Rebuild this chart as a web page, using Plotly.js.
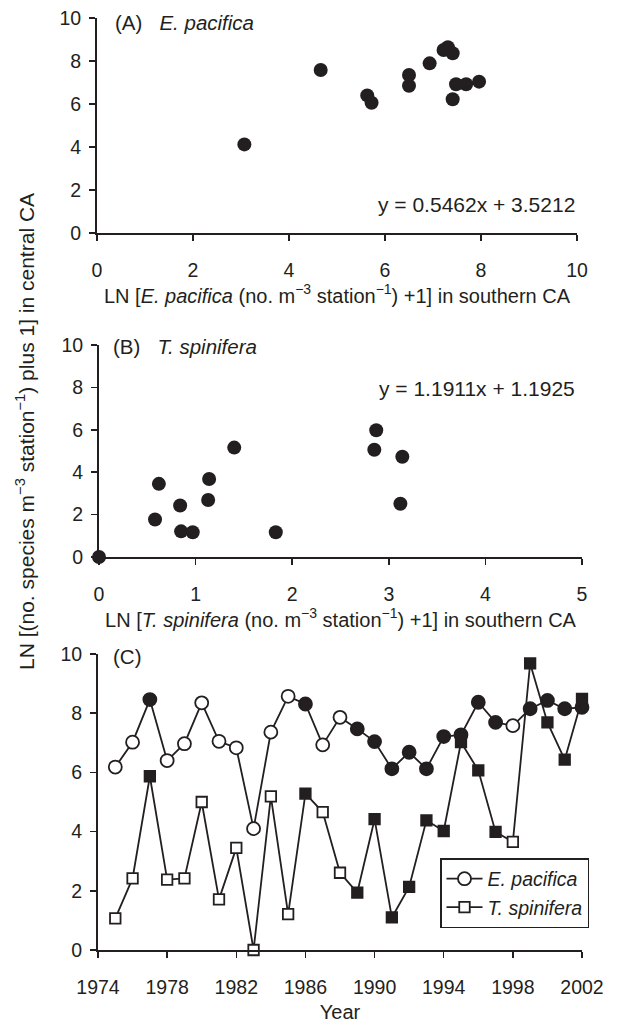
<!DOCTYPE html>
<html>
<head>
<meta charset="utf-8">
<script src="https://cdn.plot.ly/plotly-3.0.1.min.js"></script>
<style>html,body{margin:0;padding:0;background:#fff;}#chart{width:617px;height:1025px;}</style>
</head>
<body>
<div id="chart"></div>
<script>
// Panel A: E. pacifica, southern vs central CA
const aSouth = [3.07, 4.66, 5.63, 5.72, 6.50, 6.50, 6.93, 7.22, 7.31, 7.41, 7.41, 7.48, 7.69, 7.96];
const aCentral = [4.12, 7.58, 6.40, 6.06, 7.35, 6.85, 7.89, 8.51, 8.64, 8.36, 6.22, 6.92, 6.92, 7.04];
// Panel B: T. spinifera, southern vs central CA
const bSouth = [0.00, 0.58, 0.62, 0.84, 0.85, 0.97, 1.13, 1.14, 1.40, 1.83, 2.85, 2.87, 3.14, 3.12];
const bCentral = [0.00, 1.77, 3.45, 2.43, 1.21, 1.17, 2.69, 3.68, 5.16, 1.17, 5.06, 5.98, 4.73, 2.51];
// Panel C: time series in central CA
const years = [1975,1976,1977,1978,1979,1980,1981,1982,1983,1984,1985,1986,1987,1988,1989,1990,1991,1992,1993,1994,1995,1996,1997,1998,1999,2000,2001,2002];
const epac = [6.18,7.02,8.46,6.40,6.97,8.35,7.05,6.83,4.10,7.36,8.57,8.31,6.93,7.86,7.47,7.04,6.12,6.68,6.12,7.21,7.27,8.37,7.69,7.58,8.15,8.43,8.15,8.20];
const epacFilled = [0,0,1,0,0,0,0,0,0,0,0,1,0,0,1,1,1,1,1,1,1,1,1,0,1,1,1,1];
const tspin = [1.07,2.42,5.87,2.38,2.42,5.00,1.71,3.45,0.00,5.19,1.21,5.28,4.66,2.61,1.94,4.42,1.10,2.13,4.38,4.02,7.02,6.07,3.99,3.65,9.68,7.69,6.43,8.48];
const tspinFilled = [0,0,1,0,0,0,0,0,0,0,0,1,0,0,1,1,1,1,1,1,1,1,1,0,1,1,1,1];
const seriesNames = ['<i>E. pacifica</i>', '<i>T. spinifera</i>'];
const equationA = 'y = 0.5462x + 3.5212';
const equationB = 'y = 1.1911x + 1.1925';

const INK = '#231f20';
const W = 617, H = 1025;
const px = v => v / W;
const py = v => 1 - v / H;
const fillCol = f => f.map(v => v ? INK : '#ffffff');

const traces = [
  {x: aSouth, y: aCentral, xaxis: 'x', yaxis: 'y', mode: 'markers', type: 'scatter', showlegend: false,
   cliponaxis: false, marker: {symbol: 'circle', size: 14, color: INK}},
  {x: bSouth, y: bCentral, xaxis: 'x2', yaxis: 'y2', mode: 'markers', type: 'scatter', showlegend: false,
   cliponaxis: false, marker: {symbol: 'circle', size: 14, color: INK}},
  {x: years, y: epac, xaxis: 'x3', yaxis: 'y3', mode: 'lines+markers', type: 'scatter', name: seriesNames[0],
   cliponaxis: false, line: {color: INK, width: 1.8},
   marker: {symbol: 'circle', size: 13, color: fillCol(epacFilled), line: {color: INK, width: 1.8}}},
  {x: years, y: tspin, xaxis: 'x3', yaxis: 'y3', mode: 'lines+markers', type: 'scatter', name: seriesNames[1],
   cliponaxis: false, line: {color: INK, width: 1.8},
   marker: {symbol: 'square', size: 10.5, color: fillCol(tspinFilled), line: {color: INK, width: 1.8}}}
];

const FAM = 'Liberation Sans, Arial, sans-serif';
const tickFont = {family: FAM, size: 19.5, color: INK};
const titleFont = {family: FAM, size: 20, color: INK};
const textFont = {family: FAM, size: 20.5, color: INK};
function ax(domain, range, tickvals, anchor, standoff) {
  return {domain: domain, range: range, tickvals: tickvals, anchor: anchor,
    showline: true, linecolor: INK, linewidth: 2, ticks: 'outside', ticklen: 6, tickwidth: 1.5,
    tickcolor: INK, showgrid: false, zeroline: false, tickfont: tickFont, fixedrange: true,
    ticklabelstandoff: standoff};
}

const layout = {
  width: W, height: H,
  margin: {l: 0, r: 0, t: 0, b: 0},
  paper_bgcolor: '#ffffff', plot_bgcolor: '#ffffff',
  font: tickFont,
  showlegend: true,
  legend: {x: px(440), y: py(858), xanchor: 'left', yanchor: 'top', bgcolor: '#ffffff',
    bordercolor: INK, borderwidth: 1.5, font: {family: FAM, size: 19.5, color: INK},
    itemwidth: 36, tracegroupgap: 0},
  xaxis: Object.assign(ax([px(97), px(577)], [0, 10], [0,2,4,6,8,10], 'y', 13),
    {title: {text: 'LN [<i>E. pacifica</i> (no. m<sup>−3</sup> station<sup>−1</sup>) +1] in southern CA', font: titleFont, standoff: 0}}),
  yaxis: ax([py(233), py(18)], [0, 10], [0,2,4,6,8,10], 'x', 4),
  xaxis2: Object.assign(ax([px(99), px(582)], [0, 5], [0,1,2,3,4,5], 'y2', 13),
    {title: {text: 'LN [<i>T. spinifera</i> (no. m<sup>−3</sup> station<sup>−1</sup>) +1] in southern CA', font: titleFont, standoff: 5}}),
  yaxis2: ax([py(557), py(345)], [0, 10], [0,2,4,6,8,10], 'x2', 4),
  xaxis3: Object.assign(ax([px(98), px(582)], [1974, 2002], [1974,1978,1982,1986,1990,1994,1998,2002], 'y3', 13),
    {title: {text: 'Year', font: titleFont, standoff: 8}}),
  yaxis3: ax([py(950), py(654)], [0, 10], [0,2,4,6,8,10], 'x3', 4),
  annotations: [
    {xref: 'paper', yref: 'paper', x: px(113), y: py(22), xanchor: 'left', yanchor: 'middle', showarrow: false,
     text: '(A)   <i>E. pacifica</i>', font: textFont},
    {xref: 'paper', yref: 'paper', x: px(111), y: py(346), xanchor: 'left', yanchor: 'middle', showarrow: false,
     text: '(B)   <i>T. spinifera</i>', font: textFont},
    {xref: 'paper', yref: 'paper', x: px(111), y: py(656), xanchor: 'left', yanchor: 'middle', showarrow: false,
     text: '(C)', font: textFont},
    {xref: 'paper', yref: 'paper', x: px(577), y: py(205), xanchor: 'right', yanchor: 'middle', showarrow: false,
     text: equationA, font: {family: FAM, size: 21, color: INK}},
    {xref: 'paper', yref: 'paper', x: px(577), y: py(388), xanchor: 'right', yanchor: 'middle', showarrow: false,
     text: equationB, font: {family: FAM, size: 21, color: INK}},
    {xref: 'paper', yref: 'paper', x: px(25), y: py(432), xanchor: 'center', yanchor: 'middle', showarrow: false,
     textangle: -90, text: 'LN [(no. species m<sup>−3</sup> station<sup>−1</sup>) plus 1] in central CA',
     font: {family: FAM, size: 21, color: INK}}
  ]
};

Plotly.newPlot('chart', traces, layout, {staticPlot: true, displayModeBar: false});
</script>
</body>
</html>
